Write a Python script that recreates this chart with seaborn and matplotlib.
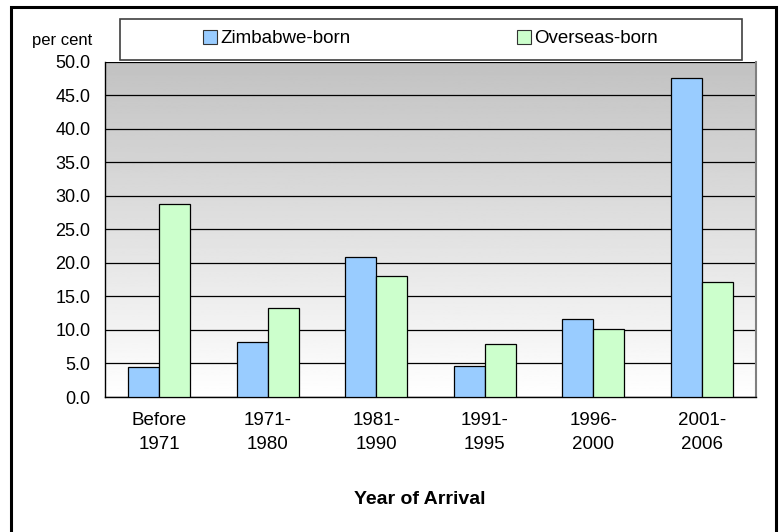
import numpy as np
import pandas as pd
import seaborn as sns
import matplotlib.pyplot as plt
from matplotlib.patches import Rectangle

periods = ['Before\n1971', '1971-\n1980', '1981-\n1990', '1991-\n1995', '1996-\n2000', '2001-\n2006']
zimbabwe_born = [4.5, 8.2, 20.9, 4.6, 11.6, 47.5]
overseas_born = [28.7, 13.2, 18.0, 7.9, 10.2, 17.1]
groups = ['Zimbabwe-born', 'Overseas-born']
colors = ['#99ccff', '#ccffcc']

df = pd.DataFrame({
    'period': periods * 2,
    'group': [groups[0]] * len(periods) + [groups[1]] * len(periods),
    'pct': zimbabwe_born + overseas_born,
})

sns.set_style('white')
plt.rcParams['font.family'] = ['Liberation Sans', 'DejaVu Sans']
plt.rcParams['text.color'] = 'black'
plt.rcParams['xtick.color'] = 'black'
plt.rcParams['ytick.color'] = 'black'

W, H = 780, 532
fig = plt.figure(figsize=(7.8, 5.32), dpi=100)
ax = fig.add_axes([105 / W, 1 - 397 / H, (756 - 105) / W, (397 - 61.5) / H])

# grey-to-white gradient behind the bars
grad = np.linspace(0.76, 1.0, 256).reshape(-1, 1)
ax.imshow(grad, cmap='gray', vmin=0, vmax=1, aspect='auto', origin='upper',
          extent=[-0.5, 5.5, 0, 50], zorder=0)

sns.barplot(data=df, x='period', y='pct', hue='group', ax=ax,
            palette=colors, edgecolor='black', linewidth=0.9,
            width=0.57, gap=0, saturation=1, legend=False, zorder=3)

ax.set_xlim(-0.5, 5.5)
ax.set_ylim(0, 50)
yt = np.arange(0, 50.1, 5)
ax.set_yticks(yt)
ax.set_yticklabels([f'{v:.1f}' for v in yt], fontsize=13)
ax.yaxis.grid(True, color='black', linewidth=0.9, zorder=1)
ax.set_axisbelow(True)
ax.set_xlabel('')
ax.set_ylabel('')
ax.tick_params(axis='x', which='major', length=0, labelsize=13.5, pad=11)
ax.set_xticks(np.arange(-0.5, 6, 1), minor=True)
ax.tick_params(axis='x', which='minor', length=5, width=1, color='black', direction='out')
ax.tick_params(axis='y', length=4.5, width=1, color='black', direction='out', pad=6)
for lbl in ax.get_xticklabels():
    lbl.set_linespacing(1.5)
    lbl.set_color('black')

for side in ['left', 'bottom']:
    ax.spines[side].set_color('black')
    ax.spines[side].set_linewidth(1)
ax.spines['right'].set_color('#808080')
ax.spines['right'].set_linewidth(1.5)
ax.spines['top'].set_visible(False)

fig.text(32 / W, 1 - 41 / H, 'per cent', fontsize=12, ha='left', va='center')
fig.text(420 / W, 1 - 499 / H, 'Year of Arrival', fontsize=14,
         fontweight='bold', ha='center', va='center')

# legend box across the top
fig.patches.append(Rectangle((120 / W, 1 - 60 / H), (742 - 120) / W, (60 - 19) / H,
                             transform=fig.transFigure, facecolor='white',
                             edgecolor='#404040', linewidth=1.2))
for name, col, x0 in zip(groups, colors, [203, 517]):
    handle = Rectangle((0, 0), 1, 1, facecolor=col, edgecolor='#333333', linewidth=0.8)
    leg = fig.legend([handle], [name], loc='center left',
                     bbox_to_anchor=(x0 / W, 1 - 38.5 / H), borderaxespad=0, borderpad=0,
                     frameon=False, fontsize=13.5, handlelength=0.75, handleheight=0.75,
                     handletextpad=0.15)
    for t in leg.get_texts():
        t.set_color('black')

# outer border (bottom edge falls outside the picture)
fig.patches.append(Rectangle((10.5 / W, -0.02), (776 - 10.5) / W, 1.02 - 6.5 / H,
                             transform=fig.transFigure, fill=False,
                             edgecolor='black', linewidth=2.2))

fig.savefig('out.png', dpi=100)
